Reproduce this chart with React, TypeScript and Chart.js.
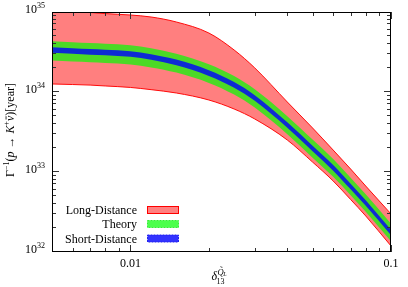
import React, { useEffect, useRef } from 'react';
import { Chart, registerables } from 'chart.js';

Chart.register(...registerables);

// ---- data ----
const xValues = [0.005, 0.006, 0.007, 0.008, 0.01, 0.012, 0.015, 0.02, 0.025, 0.03, 0.04, 0.05, 0.06, 0.07, 0.08, 0.1];

const longDistanceUpper = [1.06e35, 1.02e35, 9.86e34, 9.55e34, 9.17e34, 8.66e34, 7.5e34, 5.46e34, 3.35e34, 2.0e34, 7.5e33, 3.55e33, 1.88e33, 1.09e33, 6.68e32, 2.99e32];
const longDistanceLower = [1.26e34, 1.24e34, 1.22e34, 1.19e34, 1.14e34, 1.07e34, 9.72e33, 7.94e33, 6.13e33, 4.6e33, 2.51e33, 1.33e33, 7.72e32, 4.53e32, 2.82e32, 1.19e32];
const theoryUpper = [4.32e34, 4.19e34, 4.1e34, 4.02e34, 3.85e34, 3.53e34, 3.01e34, 2.23e34, 1.58e34, 1.08e34, 4.98e33, 2.54e33, 1.45e33, 8.49e32, 5.28e32, 2.26e32];
const theoryLower = [2.48e34, 2.41e34, 2.36e34, 2.31e34, 2.21e34, 2.03e34, 1.75e34, 1.3e34, 9.28e33, 6.38e33, 2.97e33, 1.51e33, 8.71e32, 5.12e32, 3.18e32, 1.36e32];
const shortDistanceUpper = [3.63e34, 3.53e34, 3.45e34, 3.38e34, 3.24e34, 2.97e34, 2.54e34, 1.87e34, 1.33e34, 9.12e33, 4.19e33, 2.13e33, 1.22e33, 7.14e32, 4.44e32, 1.9e32];
const shortDistanceLower = [3.09e34, 3.0e34, 2.93e34, 2.88e34, 2.75e34, 2.53e34, 2.16e34, 1.59e34, 1.13e34, 7.76e33, 3.57e33, 1.82e33, 1.04e33, 6.08e32, 3.78e32, 1.62e32];

const seriesLabels = ['Long-Distance', 'Theory', 'Short-Distance'];

const xMin = 0.005;
const xMax = 0.1;
const yMin = 1e32;
const yMax = 1e35;
const xTickValues = [0.01, 0.1];
const xTickLabels = ['0.01', '0.1'];
const yTickValues = [1e32, 1e33, 1e34, 1e35];
const yTickExponents = ['32', '33', '34', '35'];

// ---- styles ----
const SERIF = '"Liberation Serif", "DejaVu Serif", serif';
const RED_FILL = 'rgba(255,0,0,0.5)';
const RED_EDGE = 'rgba(255,0,0,0.95)';
const GREEN_FILL = 'rgba(0,255,0,0.7)';
const BLUE_FILL = 'rgba(0,0,255,0.8)';
const legendFills = ['#ff8080', '#4cff4c', '#3333ff'];
const legendEdges = ['#ff0000', '#33ee33', '#2222ee'];

const fnt = (size: number, italic = false) => `${italic ? 'italic ' : ''}${size}px ${SERIF}`;

type Run = { t: string; size: number; italic?: boolean; dy?: number; bar?: boolean };

function runsWidth(ctx: CanvasRenderingContext2D, runs: Run[]) {
  return runs.map((r) => {
    ctx.font = fnt(r.size, r.italic);
    return ctx.measureText(r.t).width;
  });
}

function drawRuns(ctx: CanvasRenderingContext2D, runs: Run[], x: number, y: number, align: 'left' | 'center' | 'right') {
  const ws = runsWidth(ctx, runs);
  const total = ws.reduce((a, b) => a + b, 0);
  let cx = align === 'left' ? x : align === 'center' ? x - total / 2 : x - total;
  runs.forEach((r, i) => {
    ctx.font = fnt(r.size, r.italic);
    ctx.fillText(r.t, cx, y + (r.dy || 0));
    if (r.bar) {
      ctx.save();
      ctx.lineWidth = 0.8;
      ctx.beginPath();
      ctx.moveTo(cx + 1.5, y + (r.dy || 0) - r.size * 0.62);
      ctx.lineTo(cx + ws[i] - 0.5, y + (r.dy || 0) - r.size * 0.62);
      ctx.stroke();
      ctx.restore();
    }
    cx += ws[i];
  });
}

const framePlugin = {
  id: 'gnuplotFrame',
  afterDraw(chart: any) {
    const ctx: CanvasRenderingContext2D = chart.ctx;
    const { left, right, top, bottom } = chart.chartArea;
    const xs = chart.scales.x;
    const ys = chart.scales.y;
    ctx.save();
    ctx.fillStyle = '#000';
    ctx.strokeStyle = '#333';
    ctx.lineWidth = 1;
    ctx.textBaseline = 'alphabetic';

    // ticks on y (left & right), log minor ticks
    for (let e = 32; e < 35; e++) {
      for (let m = 1; m <= 9; m++) {
        const v = m * Math.pow(10, e);
        const py = Math.round(ys.getPixelForValue(v)) - 0.5;
        const len = m === 1 ? 7 : 4;
        ctx.beginPath();
        ctx.moveTo(left, py);
        ctx.lineTo(left + len, py);
        ctx.moveTo(right, py);
        ctx.lineTo(right - len, py);
        ctx.stroke();
      }
    }
    // ticks on x (bottom & top)
    for (let e = -3; e <= -1; e++) {
      for (let m = 1; m <= 9; m++) {
        const v = m * Math.pow(10, e);
        if (v < xMin - 1e-12 || v > xMax + 1e-12) continue;
        const px = Math.round(xs.getPixelForValue(v)) + 0.5;
        const len = m === 1 ? 7 : 4;
        ctx.beginPath();
        ctx.moveTo(px, bottom);
        ctx.lineTo(px, bottom - len);
        ctx.moveTo(px, top);
        ctx.lineTo(px, top + len);
        ctx.stroke();
      }
    }
    // frame
    ctx.strokeStyle = '#000';
    ctx.strokeRect(left + 0.5, top + 0.5, right - left - 1, bottom - top - 1);

    // y tick labels: 10^n
    yTickValues.forEach((v, i) => {
      const py = ys.getPixelForValue(v);
      drawRuns(ctx, [
        { t: '10', size: 12 },
        { t: yTickExponents[i], size: 8, dy: -5.5 },
      ], left - 7, py + 1, 'right');
    });
    // x tick labels
    ctx.font = fnt(12);
    ctx.textAlign = 'center';
    xTickValues.forEach((v, i) => {
      const px = xs.getPixelForValue(v);
      ctx.fillText(xTickLabels[i], px, bottom + 15);
    });
    ctx.textAlign = 'left';

    // x axis title: delta_13^{Q~_L}
    const cx = (left + right) / 2 - 10;
    const by = bottom + 28;
    ctx.font = fnt(12, true);
    ctx.fillText('δ', cx, by);
    const dw = ctx.measureText('δ').width;
    ctx.font = fnt(8);
    ctx.fillText('13', cx + dw - 0.5, by + 3.5);
    ctx.font = fnt(8.5, true);
    const qx = cx + dw + 0.5;
    ctx.fillText('Q', qx, by - 5.5);
    const qw = ctx.measureText('Q').width;
    ctx.font = fnt(8.5);
    ctx.textAlign = 'center';
    ctx.fillText('˜', qx + qw / 2 + 0.8, by - 8.5);
    ctx.textAlign = 'left';
    ctx.font = fnt(6, true);
    ctx.fillText('L', qx + qw - 0.5, by - 3.8);

    // y axis title (rotated)
    ctx.save();
    ctx.translate(13.5, (top + bottom) / 2 - 2);
    ctx.rotate(-Math.PI / 2);
    drawRuns(ctx, [
      { t: 'Γ', size: 12 },
      { t: '−1', size: 8, dy: -5 },
      { t: '(', size: 12 },
      { t: 'p', size: 12, italic: true },
      { t: ' → ', size: 12 },
      { t: 'K', size: 12, italic: true },
      { t: '+', size: 8, dy: -5 },
      { t: 'ν', size: 12, italic: true, bar: true },
      { t: ')[year]', size: 12 },
    ], 0, 0, 'center');
    ctx.restore();

    // legend
    const rowY = [bottom - 42, bottom - 28, bottom - 13.5];
    seriesLabels.forEach((lab, i) => {
      const y = rowY[i];
      ctx.font = fnt(12);
      ctx.textAlign = 'right';
      ctx.fillText(lab, left + 85, y + 4);
      ctx.textAlign = 'left';
      const sx = left + 95.5;
      const sw = 31;
      const sh = 7;
      ctx.fillStyle = legendFills[i];
      ctx.fillRect(sx, y - sh / 2, sw, sh);
      ctx.strokeStyle = legendEdges[i];
      ctx.lineWidth = 1;
      if (i > 0) ctx.setLineDash([2, 1]);
      ctx.strokeRect(sx, y - sh / 2, sw, sh);
      ctx.setLineDash([]);
      ctx.fillStyle = '#000';
    });
    ctx.restore();
  },
};

function toPoints(values: number[]) {
  return xValues.map((x, i) => ({ x, y: values[i] }));
}

export default function App() {
  const canvasRef = useRef<HTMLCanvasElement | null>(null);

  useEffect(() => {
    document.body.style.margin = '0';
    const canvas = canvasRef.current;
    if (!canvas) return;
    const common = {
      pointRadius: 0,
      pointHoverRadius: 0,
      cubicInterpolationMode: 'monotone' as const,
    };
    const chart = new Chart(canvas, {
      type: 'line',
      data: {
        datasets: [
          { ...common, label: seriesLabels[2], data: toPoints(shortDistanceUpper), fill: 1, backgroundColor: BLUE_FILL, borderColor: 'rgba(0,0,0,0)', borderWidth: 0 },
          { ...common, label: seriesLabels[2] + ' low', data: toPoints(shortDistanceLower), fill: false, borderColor: 'rgba(0,0,0,0)', borderWidth: 0 },
          { ...common, label: seriesLabels[1], data: toPoints(theoryUpper), fill: 3, backgroundColor: GREEN_FILL, borderColor: 'rgba(0,0,0,0)', borderWidth: 0 },
          { ...common, label: seriesLabels[1] + ' low', data: toPoints(theoryLower), fill: false, borderColor: 'rgba(0,0,0,0)', borderWidth: 0 },
          { ...common, label: seriesLabels[0], data: toPoints(longDistanceUpper), fill: 5, backgroundColor: RED_FILL, borderColor: RED_EDGE, borderWidth: 1 },
          { ...common, label: seriesLabels[0] + ' low', data: toPoints(longDistanceLower), fill: false, borderColor: RED_EDGE, borderWidth: 1 },
        ] as any,
      },
      options: {
        animation: false,
        responsive: false,
        devicePixelRatio: 1,
        layout: { padding: { left: 52, right: 17, top: 12, bottom: 35 } },
        scales: {
          x: { type: 'logarithmic', min: xMin, max: xMax, display: false },
          y: { type: 'logarithmic', min: yMin, max: yMax, display: false },
        },
        plugins: {
          legend: { display: false },
          tooltip: { enabled: false },
        },
        events: [],
      },
      plugins: [framePlugin],
    });
    return () => chart.destroy();
  }, []);

  return (
    <div style={{ width: 408, height: 287, background: '#fff' }}>
      <canvas ref={canvasRef} width={408} height={287} style={{ display: 'block' }} />
    </div>
  );
}
